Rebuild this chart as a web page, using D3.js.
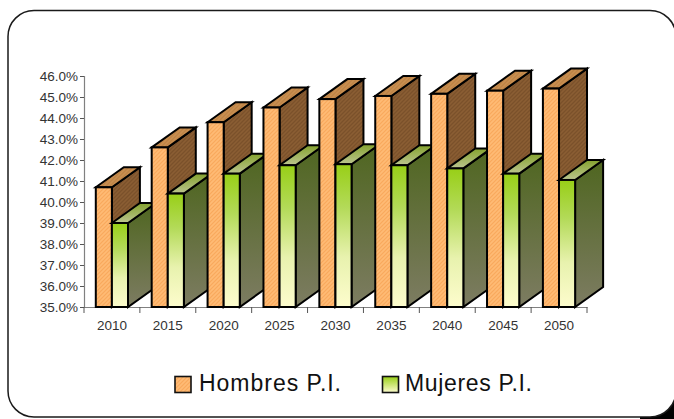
<!DOCTYPE html>
<html>
<head>
<meta charset="utf-8">
<script src="https://cdn.jsdelivr.net/npm/d3@7"></script>
<style>
  html, body { margin: 0; padding: 0; background: #fff; overflow: hidden; }
  text { font-family: "Liberation Sans", Arial, sans-serif; }
</style>
</head>
<body>
<script>
// Chart values
const years = ["2010", "2015", "2020", "2025", "2030", "2035", "2040", "2045", "2050"];
const hombres = [40.7, 42.6, 43.8, 44.5, 44.9, 45.05, 45.15, 45.3, 45.4];
const mujeres = [39.0, 40.4, 41.35, 41.75, 41.8, 41.75, 41.6, 41.35, 41.05];
const seriesNames = ["Hombres P.I.", "Mujeres P.I."];
const yTicks = [35, 36, 37, 38, 39, 40, 41, 42, 43, 44, 45, 46];

const width = 674;
const height = 419;

// Plot area and the 3D offset of the bars
const x0 = 84, x1 = 587, yBase = 307, yTop = 76;
const depthX = 28, depthY = 20;

const svg = d3.select("body").append("svg")
  .attr("width", width)
  .attr("height", height)
  .style("display", "block");

const defs = svg.append("defs");

// Small woven texture used by the orange bars
function addTexture(id, base, dark, light) {
  const p = defs.append("pattern")
    .attr("id", id)
    .attr("width", 4)
    .attr("height", 4)
    .attr("patternUnits", "userSpaceOnUse");
  p.append("rect").attr("width", 4).attr("height", 4).attr("fill", base);
  p.append("path").attr("d", "M0,4L4,0").attr("stroke", dark).attr("stroke-width", 0.8).attr("opacity", 0.6);
  p.append("path").attr("d", "M0,2L2,0M2,4L4,2").attr("stroke", light).attr("stroke-width", 0.6).attr("opacity", 0.5);
}
addTexture("orangeFront", "#fdb56c", "#f29c4f", "#ffc98c");
addTexture("orangeSide", "#84582f", "#6f4724", "#966a3e");
addTexture("orangeTop", "#c48a4c", "#b57b3e", "#d29a5c");

function addGradient(id, stops) {
  const g = defs.append("linearGradient")
    .attr("id", id)
    .attr("x1", 0).attr("y1", 0).attr("x2", 0).attr("y2", 1);
  stops.forEach(function(s) {
    g.append("stop").attr("offset", s[0]).attr("stop-color", s[1]);
  });
}
addGradient("greenFront", [[0, "#98cf17"], [0.3, "#b3da58"], [0.65, "#e8f2ae"], [1, "#fdfccd"]]);
addGradient("greenSide", [[0, "#4f6620"], [1, "#7d7c62"]]);
addGradient("greenTop", [[0, "#84a22e"], [1, "#bcc58f"]]);
addGradient("greenKey", [[0, "#98cf17"], [1, "#fdfccd"]]);

// Frame: black corner sits behind the white rounded box
svg.append("rect")
  .attr("x", 640).attr("y", 395)
  .attr("width", 34).attr("height", 24)
  .attr("fill", "#000");
svg.append("rect")
  .attr("x", 8).attr("y", 10.5)
  .attr("width", 668).attr("height", 406.5)
  .attr("rx", 26).attr("ry", 26)
  .attr("fill", "#fff")
  .attr("stroke", "#1a1a1a")
  .attr("stroke-width", 1.5);

// Scales
const xScale = d3.scaleBand().domain(years).range([x0, x1]);
// the pair of bars sits left of centre inside each band
const barScale = d3.scaleBand().domain(seriesNames).range([11.8, 44]);
const yScale = d3.scaleLinear().domain([35, 46]).range([yBase, yTop]);

// Axes
const yAxis = d3.axisLeft(yScale)
  .tickValues(yTicks)
  .tickSize(4)
  .tickPadding(2)
  .tickFormat(function(d) { return d.toFixed(1) + "%"; });
const xAxis = d3.axisBottom(xScale)
  .tickSize(0)
  .tickPadding(13);

const yG = svg.append("g").attr("transform", "translate(" + x0 + ",0)").call(yAxis);
const xG = svg.append("g").attr("transform", "translate(0," + yBase + ")").call(xAxis);

[yG, xG].forEach(function(g) {
  g.selectAll("path.domain").attr("stroke", "#808080").attr("stroke-width", 1.2);
  g.selectAll("line").attr("stroke", "#555");
  g.selectAll("text").attr("fill", "#333").style("font-size", "13.5px");
});

// Tick marks sit on the category boundaries
svg.append("g").selectAll("line")
  .data(years.map(function(d) { return xScale(d); }).concat([x1]))
  .enter().append("line")
  .attr("x1", function(d) { return d; })
  .attr("x2", function(d) { return d; })
  .attr("y1", yBase)
  .attr("y2", yBase + 6)
  .attr("stroke", "#555");

// One 3D bar: side, top, then front
function drawBar(g, x, w, value, fills) {
  const y = yScale(value);
  const stroke = { stroke: "#000", "stroke-width": 2, "stroke-linejoin": "miter" };

  const side = g.append("path")
    .attr("d", "M" + (x + w) + "," + y +
      "L" + (x + w + depthX) + "," + (y - depthY) +
      "L" + (x + w + depthX) + "," + (yBase - depthY) +
      "L" + (x + w) + "," + yBase + "Z")
    .attr("fill", fills.side);
  const top = g.append("path")
    .attr("d", "M" + x + "," + y +
      "L" + (x + depthX) + "," + (y - depthY) +
      "L" + (x + w + depthX) + "," + (y - depthY) +
      "L" + (x + w) + "," + y + "Z")
    .attr("fill", fills.top);
  const front = g.append("rect")
    .attr("x", x)
    .attr("y", y)
    .attr("width", w)
    .attr("height", yBase - y)
    .attr("fill", fills.front);

  [side, top, front].forEach(function(s) {
    Object.keys(stroke).forEach(function(k) { s.attr(k, stroke[k]); });
  });
}

const orangeFills = { front: "url(#orangeFront)", side: "url(#orangeSide)", top: "url(#orangeTop)" };
const greenFills = { front: "url(#greenFront)", side: "url(#greenSide)", top: "url(#greenTop)" };

const bars = svg.append("g");
years.forEach(function(year, i) {
  const g = bars.append("g");
  const bx = xScale(year);
  drawBar(g, bx + barScale(seriesNames[0]), barScale.bandwidth(), hombres[i], orangeFills);
  drawBar(g, bx + barScale(seriesNames[1]), barScale.bandwidth(), mujeres[i], greenFills);
});

// Legend
const legendItems = [
  { name: seriesNames[0], x: 175, fill: "url(#orangeFront)", textX: 199, textW: 142 },
  { name: seriesNames[1], x: 382.5, fill: "url(#greenKey)", textX: 405, textW: 127 }
];
const legend = svg.append("g");
legendItems.forEach(function(d) {
  legend.append("rect")
    .attr("x", d.x).attr("y", 376.5)
    .attr("width", 16).attr("height", 16)
    .attr("fill", d.fill)
    .attr("stroke", "#111")
    .attr("stroke-width", 1.6);
  legend.append("text")
    .attr("x", d.textX)
    .attr("y", 391)
    .attr("fill", "#111")
    .attr("textLength", d.textW)
    .attr("lengthAdjust", "spacing")
    .style("font-size", "23px")
    .text(d.name);
});
</script>
</body>
</html>
